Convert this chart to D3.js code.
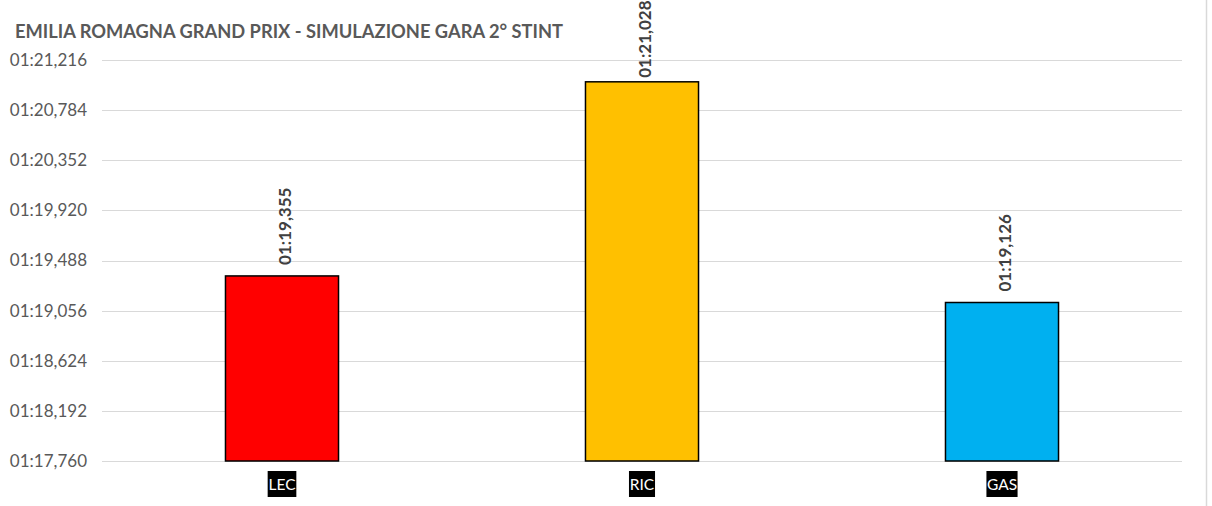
<!DOCTYPE html>
<html>
<head>
<meta charset="utf-8">
<script src="https://cdn.jsdelivr.net/npm/d3@7"></script>
<style>
  body { margin: 0; background: #fff; }
  svg { display: block; font-family: Lato, "Open Sans", sans-serif; }
</style>
</head>
<body>
<div id="chart"></div>
<script>
// lap times in seconds
var drivers = ["LEC", "RIC", "GAS"]
var lapTimes = [79.355, 81.028, 79.126]
var barColors = ["#ff0000", "#ffc000", "#00b0f0"]
var yTicks = [77.760, 78.192, 78.624, 79.056, 79.488, 79.920, 80.352, 80.784, 81.216]

var width = 1212, height = 506
var margin = {left: 102, right: 30, top: 60, bottom: 45}

var svg = d3.select("#chart").append("svg")
  .attr("width", width)
  .attr("height", height)

// right border of the chart area
svg.append("line")
  .attr("x1", 1206.5).attr("x2", 1206.5)
  .attr("y1", 0).attr("y2", height)
  .attr("stroke", "#d9d9d9")
  .attr("stroke-width", 1.5)

function fmt(v) {
  var m = Math.floor(v / 60)
  var s = v - m * 60
  var sec = Math.floor(s)
  var ms = Math.round((s - sec) * 1000)
  return String(m).padStart(2, "0") + ":" + String(sec).padStart(2, "0") + "," + String(ms).padStart(3, "0")
}

var x = d3.scaleBand()
  .domain(drivers)
  .range([margin.left, 1182])
  .padding(0)

var y = d3.scaleLinear()
  .domain([yTicks[0], yTicks[yTicks.length - 1]])
  .range([461, 60])

var barW = x.bandwidth() * 0.314

// gridlines
svg.append("g")
  .selectAll("line")
  .data(yTicks)
  .enter().append("line")
  .attr("x1", margin.left).attr("x2", 1182)
  .attr("y1", function(d) { return Math.round(y(d)) + 0.5 })
  .attr("y2", function(d) { return Math.round(y(d)) + 0.5 })
  .attr("stroke", "#d9d9d9")
  .attr("stroke-width", 1.2)

// y axis labels
var yAxis = d3.axisLeft(y).tickValues(yTicks).tickFormat(fmt).tickSize(0).tickPadding(0)
var ya = svg.append("g")
  .attr("transform", "translate(87,0)")
  .call(yAxis)
ya.select(".domain").remove()
ya.selectAll("text")
  .attr("fill", "#595959")
  .attr("font-size", 17)
  .attr("font-family", "Lato, sans-serif")

// bars
svg.append("g")
  .selectAll("rect")
  .data(lapTimes)
  .enter().append("rect")
  .attr("x", function(d, i) { return x(drivers[i]) + x.bandwidth() / 2 - barW / 2 })
  .attr("y", function(d) { return y(d) })
  .attr("width", barW)
  .attr("height", function(d) { return y(yTicks[0]) - y(d) })
  .attr("fill", function(d, i) { return barColors[i] })
  .attr("stroke", "#000")
  .attr("stroke-width", 1.5)

// value labels (rotated)
svg.append("g")
  .selectAll("text")
  .data(lapTimes)
  .enter().append("text")
  .attr("transform", function(d, i) {
    var cx = x(drivers[i]) + x.bandwidth() / 2 + 9
    var gap = y(d) < 120 ? 4 : 11
    return "translate(" + cx + "," + (y(d) - gap) + ") rotate(-90)"
  })
  .attr("font-size", 17)
  .attr("font-weight", "bold")
  .attr("fill", "#404040")
  .text(function(d) { return fmt(d) })

// category labels, white on black
var cat = svg.append("g").selectAll("g")
  .data(drivers)
  .enter().append("g")
  .attr("transform", function(d) { return "translate(" + (x(d) + x.bandwidth() / 2) + ",484)" })

var catBg = cat.append("rect")
  .attr("y", -13)
  .attr("height", 26)
  .attr("fill", "#000")

var catText = cat.append("text")
  .attr("text-anchor", "middle")
  .attr("dy", "0.36em")
  .attr("font-size", 15.5)
  .attr("fill", "#fff")
  .text(function(d) { return d })

catBg.each(function(d, i) {
  var w = catText.nodes()[i].getBBox().width + 1
  d3.select(this).attr("x", -w / 2).attr("width", w)
})

// title
svg.append("text")
  .attr("x", 15).attr("y", 38)
  .attr("font-size", 18.3)
  .attr("font-weight", "bold")
  .attr("fill", "#595959")
  .text("EMILIA ROMAGNA GRAND PRIX - SIMULAZIONE GARA 2° STINT")
</script>
</body>
</html>
